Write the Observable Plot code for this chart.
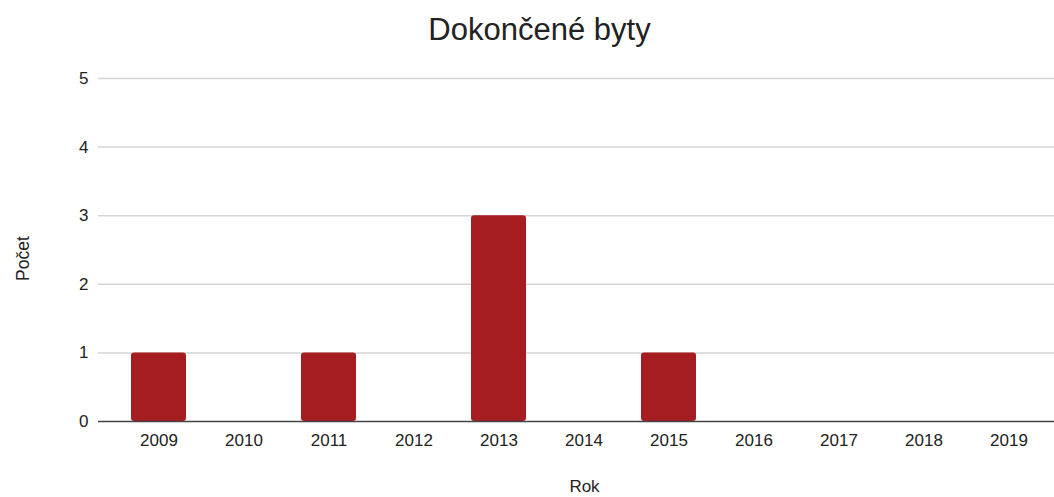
<!DOCTYPE html>
<html>
<head>
<meta charset="utf-8">
<script src="https://cdn.jsdelivr.net/npm/d3@7"></script>
<script src="https://cdn.jsdelivr.net/npm/@observablehq/plot@0.6"></script>
<style>
  html, body { margin: 0; padding: 0; background: #fff; }
</style>
</head>
<body>
<div id="chart"></div>
<script>
const titleText = "Dokončené byty";
const xLabel = "Rok";
const yLabel = "Počet";
const years = ["2009","2010","2011","2012","2013","2014","2015","2016","2017","2018","2019"];
const counts = [1, 0, 1, 0, 3, 0, 1, 0, 0, 0, 0];
const yTicks = [0, 1, 2, 3, 4, 5];

const data = years.map((y, i) => ({year: y, count: counts[i]}));
const font = "Arial, 'Liberation Sans', sans-serif";

const chart = Plot.plot({
  width: 1054,
  height: 497,
  marginTop: 78,
  marginBottom: 76,
  marginLeft: 98,
  marginRight: 0,
  style: {fontFamily: font, fontSize: "17px", color: "#222", background: "#fff"},
  x: {domain: years, paddingInner: 0.3545, paddingOuter: 0.2876, align: 0.653, label: null, tickSize: 0, tickPadding: 12},
  y: {domain: [0, 5], ticks: yTicks, tickFormat: d3.format("d"), label: null, tickSize: 0, tickPadding: 10},
  marks: [
    Plot.ruleY(yTicks.filter(d => d > 0), {stroke: "#d6d6d6", strokeWidth: 1.5}),
    Plot.barY(data, {x: "year", y: "count", fill: "#a51d21", rx: 3}),
    Plot.ruleY([0], {stroke: "#444", strokeWidth: 1.5}),
    Plot.text([titleText], {frameAnchor: "top", lineAnchor: "middle", dx: -37, dy: -48, fontSize: 31, fill: "#222"}),
    Plot.text([xLabel], {frameAnchor: "bottom", lineAnchor: "middle", dx: 8, dy: 65.5, fontSize: 17, fill: "#222"}),
    Plot.text([yLabel], {frameAnchor: "left", lineAnchor: "middle", rotate: -90, dx: -75.4, dy: 31, fontSize: 17.5, fill: "#222"})
  ]
});
document.getElementById("chart").appendChild(chart);
</script>
</body>
</html>
